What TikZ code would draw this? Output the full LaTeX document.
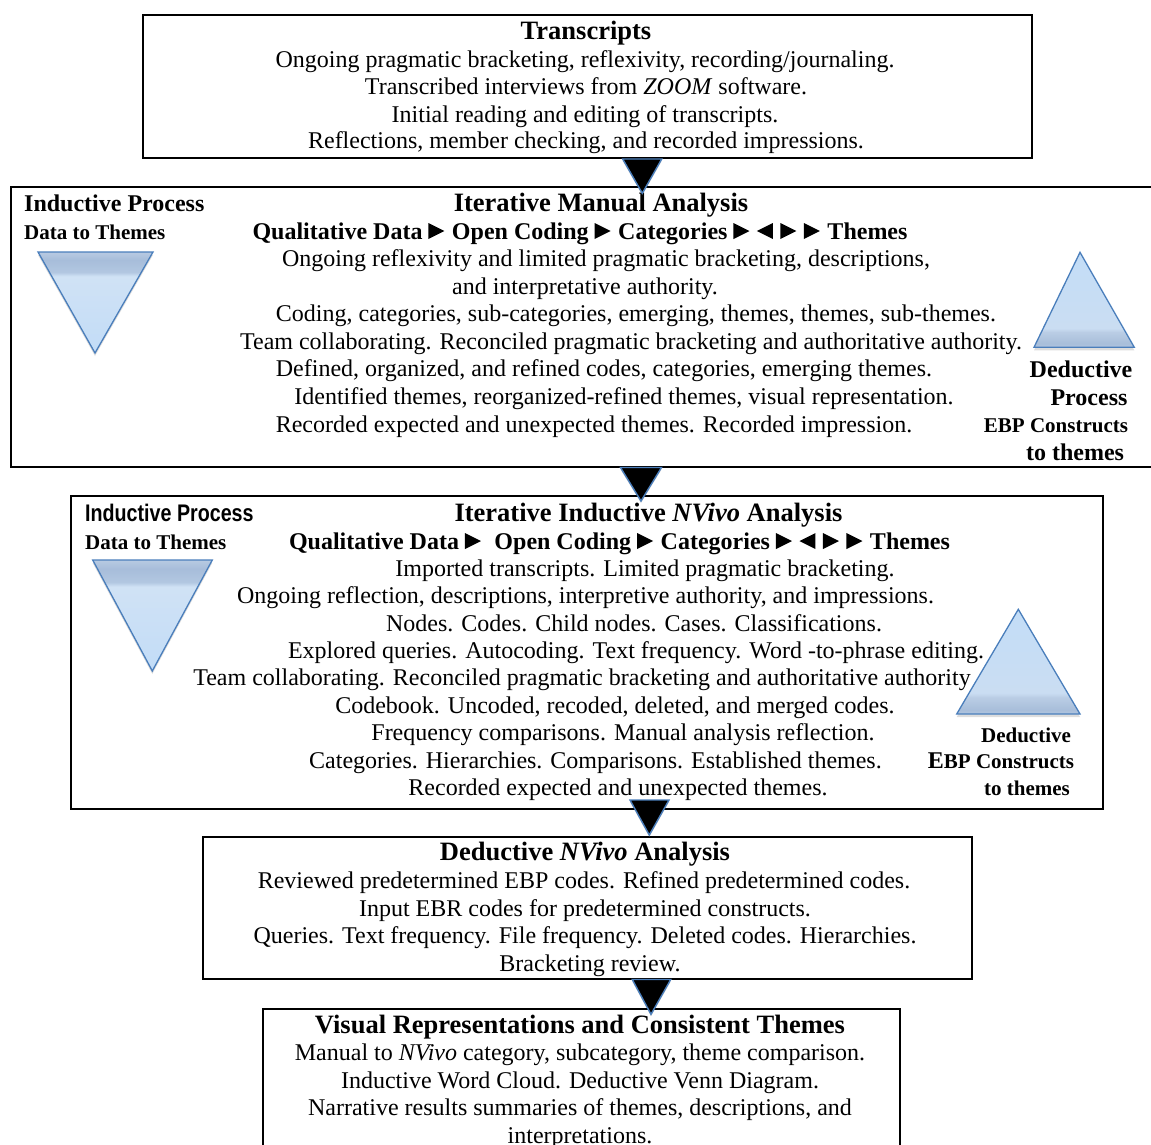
\documentclass[tikz,border=0pt]{standalone}
\usepackage{fontspec}
\setmainfont{Liberation Serif}
\newfontfamily\headsans{Liberation Sans}
\usetikzlibrary{shadows}

\definecolor{triline}{HTML}{4A7EBB}
% colours of the shaded process triangles
\definecolor{dA}{HTML}{C2DCF7}
\definecolor{dB}{HTML}{D0E2F5}
\definecolor{dC}{HTML}{B2C7E1}
\definecolor{dD}{HTML}{A7BDDA}
\definecolor{dE}{HTML}{B8CAE2}
\definecolor{uA}{HTML}{B2C6DF}
\definecolor{uB}{HTML}{A8BEDA}
\definecolor{uC}{HTML}{BACDE5}
\definecolor{uD}{HTML}{CADDF2}
\definecolor{uE}{HTML}{C3DDF7}

\pgfdeclareverticalshading{downtri}{100bp}{color(0bp)=(dA); color(25bp)=(dA); color(63bp)=(dB); color(65bp)=(dC); color(71bp)=(dD); color(75bp)=(dE); color(100bp)=(dE)}
\pgfdeclareverticalshading{uptri}{100bp}{color(0bp)=(uA); color(25bp)=(uA); color(27bp)=(uB); color(33bp)=(uC); color(35bp)=(uD); color(75bp)=(uE); color(100bp)=(uE)}

% inline pointers used in the coding sequence
\newcommand{\arr}{\tikz[baseline=0pt,x=1pt,y=1pt]\fill[black] (0,0) -- (16,8) -- (0,16) -- cycle;\hspace{7.5pt}}
\newcommand{\arl}{\tikz[baseline=0pt,x=1pt,y=1pt]\fill[black] (16,0) -- (0,8) -- (16,16) -- cycle;\hspace{7.5pt}}

\begin{document}
\begin{tikzpicture}[x=1pt,y=-1pt,
  box/.style={draw=black, line width=1.8pt, fill=none, inner sep=0pt, anchor=north west},
  ln/.style={anchor=base, inner sep=0pt, font=\fontsize{24}{28}\selectfont},
  lnb/.style={anchor=base, inner sep=0pt, font=\fontsize{24}{28}\selectfont\bfseries},
  sml/.style={anchor=base, inner sep=0pt, font=\fontsize{21}{25}\selectfont\bfseries},
  ttl/.style={anchor=base, inner sep=0pt, font=\fontsize{26.5}{30}\selectfont\bfseries},
  proc/.style={draw=triline, line width=1.3pt,
    drop shadow={shadow xshift=0pt, shadow yshift=-3pt, opacity=0.22, fill=black!60}},
  conn/.style={fill=black, draw=triline, line width=1.4pt,
    drop shadow={shadow xshift=0pt, shadow yshift=-2pt, opacity=0.25, fill=black!60}},
]
\useasboundingbox (0,0) rectangle (1151,1145);

% ---------- frames ----------
\node[box, minimum width=889, minimum height=143] (b1) at (142,14) {};
\node[box, minimum width=1145, minimum height=280] (b2) at (10,186) {};
\node[box, minimum width=1032, minimum height=313] (b3) at (70,495) {};
\node[box, minimum width=769, minimum height=142] (b4) at (202,836) {};
\node[box, minimum width=637, minimum height=160] (b5) at (262,1008) {};

% ---------- transcripts ----------
\node[ttl] (t1) at (586,40) {Transcripts};
\node[ln] (t1a) at (585,67.5) {Ongoing pragmatic bracketing, reflexivity, recording/journaling.};
\node[ln] (t1b) at (586,95) {Transcribed interviews from \textit{ZOOM} software.};
\node[ln] (t1c) at (585,122.5) {Initial reading and editing of transcripts.};
\node[ln] (t1d) at (586,149) {Reflections, member checking, and recorded impressions.};

% ---------- manual analysis ----------
\node[lnb, anchor=base west] (i2a) at (24,211) {Inductive Process};
\node[sml, anchor=base west] (i2b) at (24,239) {Data to Themes};
\path[proc, shading=downtri] (38,252) -- (153,252) -- (95,353) -- cycle;

\node[ttl] (t2) at (601,211) {Iterative Manual Analysis};
\node[lnb] (q2) at (580,239) {Qualitative Data \arr{}Open Coding \arr{}Categories \arr\arl\arr\arr{}Themes};
\node[ln] (t2a) at (606,266.5) {Ongoing reflexivity and limited pragmatic bracketing, descriptions,};
\node[ln] (t2b) at (585,294) {and interpretative authority.};
\node[ln] (t2c) at (636,321.7) {Coding, categories, sub-categories, emerging, themes, themes, sub-themes.};
\node[ln] (t2d) at (631,349.3) {Team collaborating. Reconciled pragmatic bracketing and authoritative authority.};
\node[ln] (t2e) at (604,376.9) {Defined, organized, and refined codes, categories, emerging themes.};
\node[ln] (t2f) at (624,404.5) {Identified themes, reorganized-refined themes, visual representation.};
\node[ln] (t2g) at (594,432) {Recorded expected and unexpected themes. Recorded impression.};

\path[proc, shading=uptri] (1080,252.3) -- (1134.3,347.3) -- (1034,347.3) -- cycle;
\node[lnb] (d2a) at (1081,377) {Deductive};
\node[lnb] (d2b) at (1089,405) {Process};
\node[sml] (d2c) at (1056,432) {EBP Constructs};
\node[lnb] (d2d) at (1075,460) {to themes};

% ---------- inductive NVivo analysis ----------
\node[anchor=base west, inner sep=0pt] (i3a) at (85,521)
  {\scalebox{0.82}[1]{\headsans\fontsize{24}{28}\selectfont\bfseries Inductive Process}};
\node[sml, anchor=base west] (i3b) at (85,549) {Data to Themes};
\path[proc, shading=downtri] (92.7,560) -- (212.3,560) -- (152.3,671) -- cycle;

\node[ttl] (t3) at (648.5,521) {Iterative Inductive \textit{NVivo} Analysis};
\node[lnb] (q3) at (619.5,549) {Qualitative Data \arr{} Open Coding \arr{}Categories \arr\arl\arr\arr{}Themes};
\node[ln] (t3a) at (645,576) {Imported transcripts. Limited pragmatic bracketing.};
\node[ln] (t3b) at (585.5,603.5) {Ongoing reflection, descriptions, interpretive authority, and impressions.};
\node[ln] (t3c) at (634,631) {Nodes. Codes. Child nodes. Cases. Classifications.};
\node[ln] (t3d) at (636,658.3) {Explored queries. Autocoding. Text frequency. Word -to-phrase editing.};
\node[ln] (t3e) at (582,685.7) {Team collaborating. Reconciled pragmatic bracketing and authoritative authority};
\node[ln] (t3f) at (615,713) {Codebook. Uncoded, recoded, deleted, and merged codes.};
\node[ln] (t3g) at (623,740.5) {Frequency comparisons. Manual analysis reflection.};
\node[ln] (t3h) at (595.5,768) {Categories. Hierarchies. Comparisons. Established themes.};
\node[ln] (t3i) at (618,795.5) {Recorded expected and unexpected themes.};

\path[proc, shading=uptri] (1018.3,609.3) -- (1080,714) -- (956.7,714) -- cycle;
\node[sml] (d3a) at (1026,742) {Deductive};
\node[sml] (d3b) at (1001,768.5) {{\fontsize{24}{28}\selectfont E}BP Constructs};
\node[sml] (d3c) at (1027,795) {to themes};

% ---------- deductive NVivo analysis ----------
\node[ttl] (t4) at (585,860.5) {Deductive \textit{NVivo} Analysis};
\node[ln] (t4a) at (584,888.5) {Reviewed predetermined EBP codes. Refined predetermined codes.};
\node[ln] (t4b) at (585,916) {Input EBR codes for predetermined constructs.};
\node[ln] (t4c) at (585,943.5) {Queries. Text frequency. File frequency. Deleted codes. Hierarchies.};
\node[ln] (t4d) at (590,971) {Bracketing review.};

% ---------- visual representations ----------
\node[ttl] (t5) at (580,1033) {Visual Representations and Consistent Themes};
\node[ln] (t5a) at (580,1060.5) {Manual to \textit{NVivo} category, subcategory, theme comparison.};
\node[ln] (t5b) at (580,1088) {Inductive Word Cloud. Deductive Venn Diagram.};
\node[ln] (t5c) at (580,1115.5) {Narrative results summaries of themes, descriptions, and};
\node[ln] (t5d) at (580,1143) {interpretations.};

% ---------- flow pointers between the stages ----------
\path[conn] (622.7,159) -- (661.7,159) -- (642.3,193.3) -- cycle;
\path[conn] (620.5,467.5) -- (661.5,467.5) -- (641,501) -- cycle;
\path[conn] (630,800) -- (669,800) -- (649.3,835) -- cycle;
\path[conn] (632.3,979.5) -- (670.7,979.5) -- (651,1014.3) -- cycle;
\end{tikzpicture}
\end{document}
